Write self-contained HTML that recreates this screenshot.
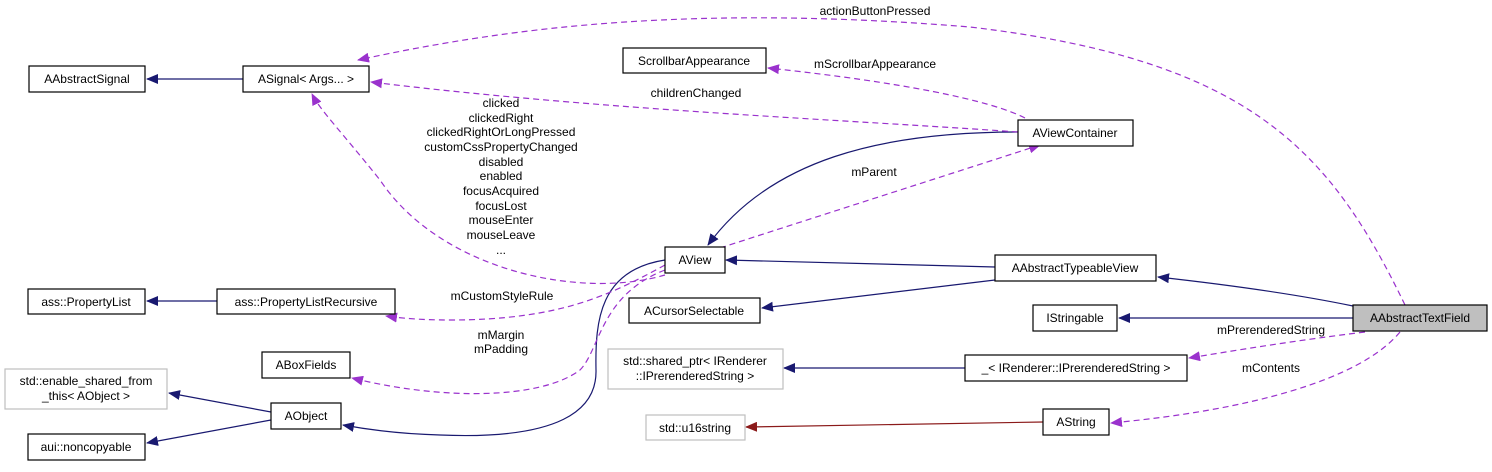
<!DOCTYPE html>
<html><head><meta charset="utf-8"><style>
body{margin:0;background:#fff;}
svg text{font-family:"Liberation Sans",sans-serif;font-size:12px;fill:#000;}
</style></head><body>
<svg width="1492" height="467" viewBox="0 0 1492 467" xmlns="http://www.w3.org/2000/svg">
<defs>
<marker id="n" markerWidth="12" markerHeight="10" refX="11" refY="5" orient="auto" markerUnits="userSpaceOnUse"><path d="M0,0 L12,5 L0,10 z" fill="#191970"/></marker>
<marker id="p" markerWidth="12" markerHeight="10" refX="11" refY="5" orient="auto" markerUnits="userSpaceOnUse"><path d="M0,0 L12,5 L0,10 z" fill="#9a32cd"/></marker>
<marker id="r" markerWidth="12" markerHeight="10" refX="11" refY="5" orient="auto" markerUnits="userSpaceOnUse"><path d="M0,0 L12,5 L0,10 z" fill="#8b1a1a"/></marker>
</defs>
<g fill="none" stroke-width="1.2">
<!-- navy inheritance -->
<g stroke="#191970">
<path d="M243,79 L147,79" marker-end="url(#n)"/>
<path d="M217,301 L147,301" marker-end="url(#n)"/>
<path d="M271,412 L169,393" marker-end="url(#n)"/>
<path d="M271,420 L147,443" marker-end="url(#n)"/>
<path d="M1018,132 C880,132 770,160 708,245" marker-end="url(#n)"/>
<path d="M995,267 L726,260" marker-end="url(#n)"/>
<path d="M995,280 L762,308" marker-end="url(#n)"/>
<path d="M1353,306 C1300,295 1230,285 1158,277" marker-end="url(#n)"/>
<path d="M1353,318 L1119,318" marker-end="url(#n)"/>
<path d="M965,368 L784,368" marker-end="url(#n)"/>
<path d="M665,260 C600,270 595,320 596,370 C597,410 560,440 440,435 C400,434 370,430 343,425" marker-end="url(#n)"/>
</g>
<path d="M1043,422 L746,427" stroke="#8b1a1a" marker-end="url(#r)"/>
<!-- purple dashed -->
<g stroke="#9a32cd" stroke-dasharray="6,4">
<path d="M1405,305 C1330,150 1250,60 970,27 C700,5 520,25 358,60" marker-end="url(#p)"/>
<path d="M1018,132 C850,120 600,110 371,82" marker-end="url(#p)"/>
<path d="M1025,118 C990,100 900,82 768,68" marker-end="url(#p)"/>
<path d="M665,275 C580,300 440,270 380,180 C340,130 320,110 312,94" marker-end="url(#p)"/>
<path d="M720,248 L1040,145" marker-end="url(#p)"/>
<path d="M665,265 C610,295 560,320 450,320 C420,320 400,318 386,316" marker-end="url(#p)"/>
<path d="M665,270 C600,295 600,350 580,370 C540,400 440,400 352,378" marker-end="url(#p)"/>
<path d="M1365,332 C1300,340 1250,348 1189,358" marker-end="url(#p)"/>
<path d="M1400,332 C1360,380 1250,410 1111,423" marker-end="url(#p)"/>
</g>
</g>
<!-- nodes -->
<g stroke-width="1.2">
<rect x="29" y="66" width="116" height="26" fill="#fff" stroke="#000"/>
<rect x="243" y="66" width="126" height="26" fill="#fff" stroke="#000"/>
<rect x="623" y="48" width="143" height="25" fill="#fff" stroke="#000"/>
<rect x="1018" y="120" width="115" height="26" fill="#fff" stroke="#000"/>
<rect x="665" y="247" width="60" height="26" fill="#fff" stroke="#000"/>
<rect x="995" y="255" width="161" height="26" fill="#fff" stroke="#000"/>
<rect x="629" y="298" width="131" height="25" fill="#fff" stroke="#000"/>
<rect x="1033" y="305" width="84" height="26" fill="#fff" stroke="#000"/>
<rect x="1353" y="305" width="134" height="26" fill="#bfbfbf" stroke="#000"/>
<rect x="28" y="289" width="117" height="25" fill="#fff" stroke="#000"/>
<rect x="217" y="289" width="178" height="25" fill="#fff" stroke="#000"/>
<rect x="262" y="352" width="88" height="26" fill="#fff" stroke="#000"/>
<rect x="5" y="369" width="162" height="40" fill="#fff" stroke="#bfbfbf"/>
<rect x="271" y="403" width="70" height="26" fill="#fff" stroke="#000"/>
<rect x="28" y="434" width="117" height="26" fill="#fff" stroke="#000"/>
<rect x="608" y="349" width="175" height="40" fill="#fff" stroke="#bfbfbf"/>
<rect x="965" y="355" width="222" height="26" fill="#fff" stroke="#000"/>
<rect x="646" y="415" width="99" height="25" fill="#fff" stroke="#bfbfbf"/>
<rect x="1043" y="409" width="66" height="26" fill="#fff" stroke="#000"/>
</g>
<g text-anchor="middle">
<text x="87" y="83">AAbstractSignal</text>
<text x="306" y="83">ASignal&lt; Args... &gt;</text>
<text x="694" y="65">ScrollbarAppearance</text>
<text x="1075" y="137">AViewContainer</text>
<text x="695" y="264">AView</text>
<text x="1075" y="272">AAbstractTypeableView</text>
<text x="694" y="315">ACursorSelectable</text>
<text x="1075" y="322">IStringable</text>
<text x="1420" y="322">AAbstractTextField</text>
<text x="86" y="306">ass::PropertyList</text>
<text x="306" y="306">ass::PropertyListRecursive</text>
<text x="306" y="369">ABoxFields</text>
<text x="86" y="385">std::enable_shared_from</text>
<text x="86" y="400">_this&lt; AObject &gt;</text>
<text x="306" y="420">AObject</text>
<text x="86" y="451">aui::noncopyable</text>
<text x="695" y="365">std::shared_ptr&lt; IRenderer</text>
<text x="695" y="380">::IPrerenderedString &gt;</text>
<text x="1076" y="372">_&lt; IRenderer::IPrerenderedString &gt;</text>
<text x="695" y="432">std::u16string</text>
<text x="1076" y="426">AString</text>
<text x="875" y="15">actionButtonPressed</text>
<text x="875" y="68">mScrollbarAppearance</text>
<text x="696" y="97">childrenChanged</text>
<text x="874" y="176">mParent</text>
<text x="501" y="107">clicked</text>
<text x="501" y="122">clickedRight</text>
<text x="501" y="136">clickedRightOrLongPressed</text>
<text x="501" y="151">customCssPropertyChanged</text>
<text x="501" y="166">disabled</text>
<text x="501" y="180">enabled</text>
<text x="501" y="195">focusAcquired</text>
<text x="501" y="210">focusLost</text>
<text x="501" y="224">mouseEnter</text>
<text x="501" y="239">mouseLeave</text>
<text x="501" y="254">...</text>
<text x="502" y="300">mCustomStyleRule</text>
<text x="501" y="339">mMargin</text>
<text x="501" y="353">mPadding</text>
<text x="1271" y="334">mPrerenderedString</text>
<text x="1271" y="372">mContents</text>
</g>
</svg>
</body></html>
